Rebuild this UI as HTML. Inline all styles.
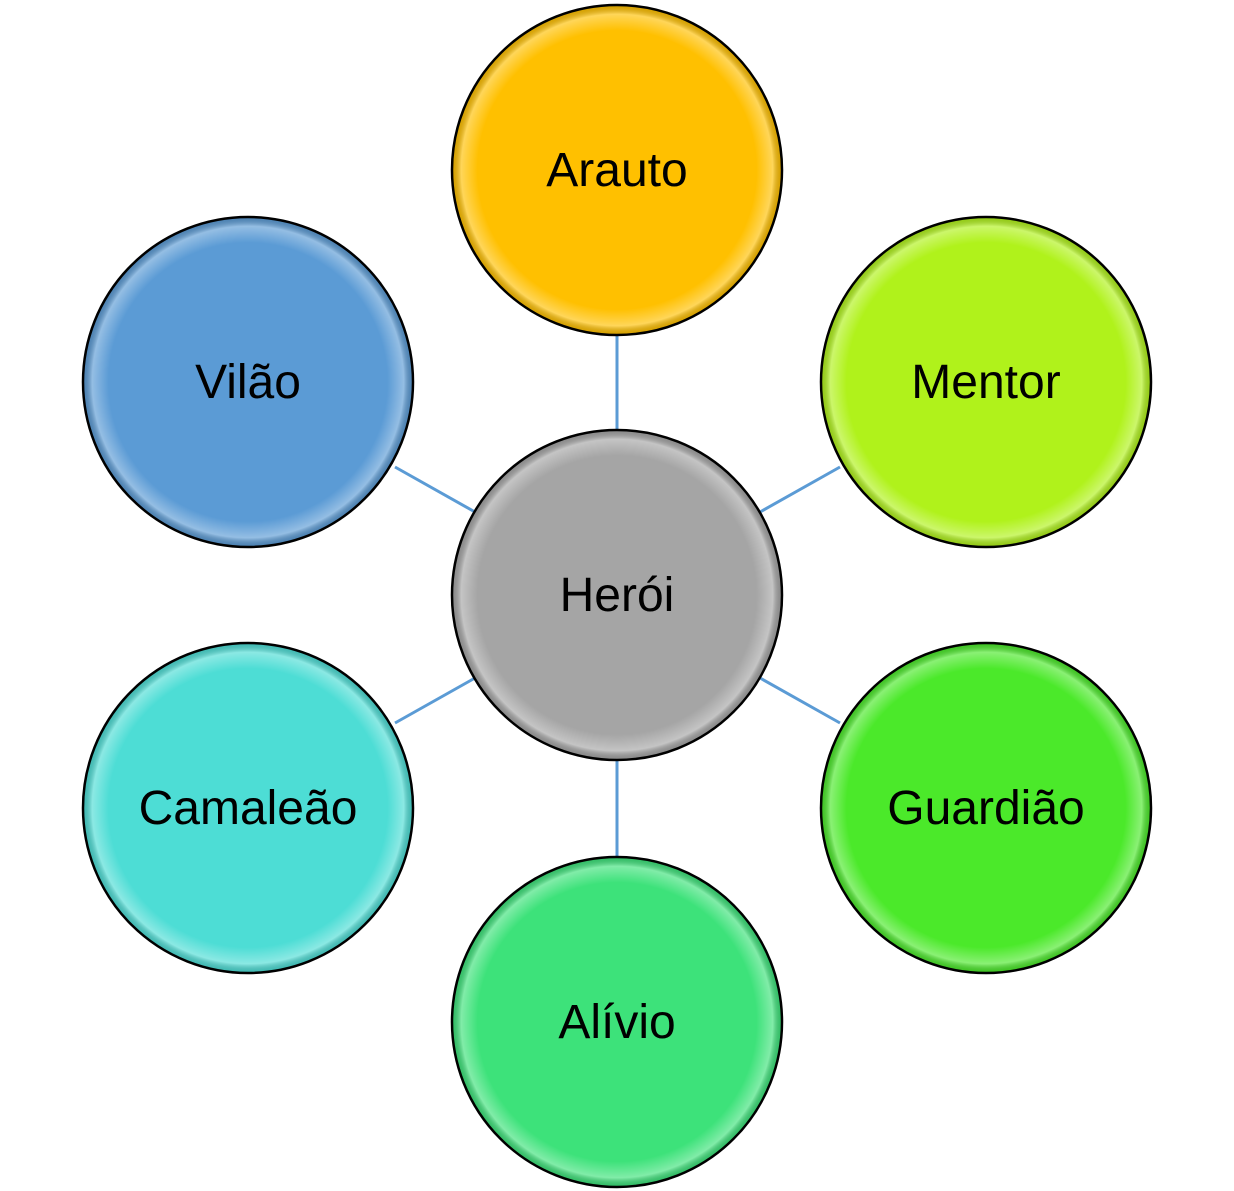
<!DOCTYPE html>
<html><head><meta charset="utf-8"><style>html,body{margin:0;padding:0;background:#fff}svg{display:block}</style></head>
<body>
<svg width="1234" height="1191" viewBox="0 0 1234 1191" xmlns="http://www.w3.org/2000/svg">
<defs>
<radialGradient id="sh" cx="0.5" cy="0.5" r="0.5">
<stop offset="0.85" stop-color="#fff" stop-opacity="0"/>
<stop offset="0.95" stop-color="#fff" stop-opacity="0.35"/>
<stop offset="1" stop-color="#000" stop-opacity="0.15"/>
</radialGradient>
</defs>
<g stroke="#5B9BD5" stroke-width="3">
<line x1="617" y1="335" x2="617" y2="430"/>
<line x1="617" y1="760" x2="617" y2="857"/>
<line x1="395" y1="467" x2="475" y2="512"/>
<line x1="760" y1="512" x2="840" y2="467"/>
<line x1="395" y1="723" x2="475" y2="678"/>
<line x1="760" y1="678" x2="840" y2="723"/>
</g>
<g stroke="#000" stroke-width="2.5">
<circle cx="617" cy="170" r="165" fill="#FFC000"/>
<circle cx="986" cy="382" r="165" fill="#B0F21B"/>
<circle cx="248" cy="382" r="165" fill="#5B9BD5"/>
<circle cx="617" cy="595" r="165" fill="#A5A5A5"/>
<circle cx="248" cy="808" r="165" fill="#4DDDD5"/>
<circle cx="986" cy="808" r="165" fill="#4BE92A"/>
<circle cx="617" cy="1022" r="165" fill="#3DE27A"/>
</g>
<g fill="url(#sh)">
<circle cx="617" cy="170" r="164"/><circle cx="986" cy="382" r="164"/><circle cx="248" cy="382" r="164"/>
<circle cx="617" cy="595" r="164"/><circle cx="248" cy="808" r="164"/><circle cx="986" cy="808" r="164"/><circle cx="617" cy="1022" r="164"/>
</g>
<g font-family="Liberation Sans, sans-serif" font-size="48" text-anchor="middle" fill="#000">
<text x="617" y="186">Arauto</text>
<text x="986" y="398">Mentor</text>
<text x="248" y="398">Vilão</text>
<text x="617" y="611">Herói</text>
<text x="248" y="824">Camaleão</text>
<text x="986" y="824">Guardião</text>
<text x="617" y="1038">Alívio</text>
</g>
</svg>
</body></html>
